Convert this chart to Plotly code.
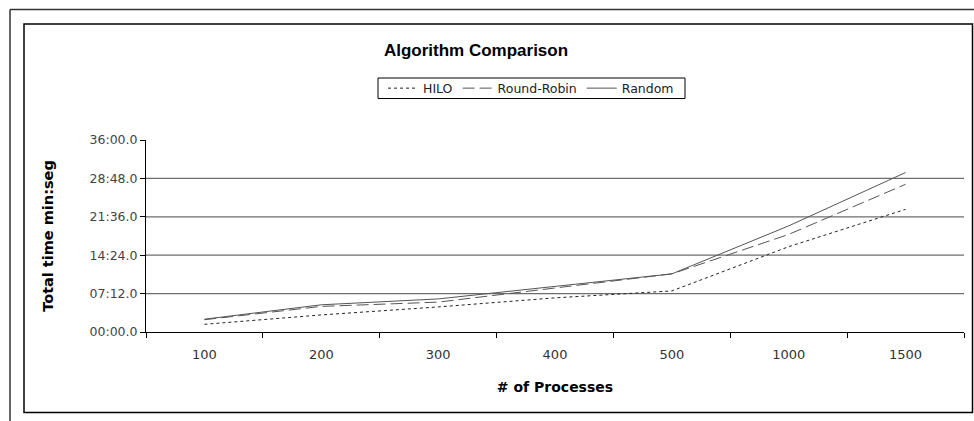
import plotly.graph_objects as go

categories = ["100", "200", "300", "400", "500", "1000", "1500"]
hilo = [1.44, 3.2, 4.7, 6.4, 7.7, 16.0, 23.0]
round_robin = [2.3, 4.8, 5.6, 8.3, 10.9, 18.3, 27.7]
random_ = [2.4, 5.1, 6.2, 8.6, 10.9, 19.9, 29.9]
tick_vals = [0, 7.2, 14.4, 21.6, 28.8, 36]
tick_text = ["00:00.0", "07:12.0", "14:24.0", "21:36.0", "28:48.0", "36:00.0"]

W, H = 974, 421
L, R, T, B = 146, 10, 140, 89
pw, ph = W - L - R, H - T - B

def px_x(x):
    return (x - L) / pw

def px_y(y):
    return (H - B - y) / ph

FONT = "DejaVu Sans, Verdana, sans-serif"
TFONT = "Liberation Sans, Arial, sans-serif"

fig = go.Figure()
fig.add_trace(go.Scatter(x=categories, y=hilo, name="HILO", mode="lines",
                         line=dict(color="#222222", width=1, dash="3px,3px")))
fig.add_trace(go.Scatter(x=categories, y=round_robin, name="Round-Robin", mode="lines",
                         line=dict(color="#555555", width=1, dash="12px,5px")))
fig.add_trace(go.Scatter(x=categories, y=random_, name="Random", mode="lines",
                         line=dict(color="#555555", width=1)))

for v in tick_vals[1:-1]:
    fig.add_hline(y=v, line=dict(color="#6e6e6e", width=1.3), layer="below")

shapes = [
    dict(type="rect", xref="paper", yref="paper", x0=px_x(24), x1=px_x(972.5),
         y0=px_y(412.5), y1=px_y(24), line=dict(color="black", width=1.5)),
    dict(type="line", xref="paper", yref="paper", x0=px_x(10), x1=px_x(974),
         y0=px_y(9.5), y1=px_y(9.5), line=dict(color="#333333", width=1.5)),
    dict(type="line", xref="paper", yref="paper", x0=px_x(10), x1=px_x(10),
         y0=px_y(9.5), y1=px_y(421), line=dict(color="#333333", width=1.5)),
    # legend frame
    dict(type="rect", xref="paper", yref="paper", x0=px_x(378), x1=px_x(685),
         y0=px_y(98.5), y1=px_y(78), line=dict(color="black", width=1)),
]
for s in shapes:
    fig.add_shape(**s)

fig.update_layout(
    width=W, height=H,
    margin=dict(l=L, r=R, t=T, b=B, pad=0),
    paper_bgcolor="white", plot_bgcolor="white",
    font=dict(family=FONT, color="#333333", size=12.5),
    title=dict(text="<b>Algorithm Comparison</b>", x=476 / W, xanchor="center",
               y=1 - 50 / H, yanchor="middle", yref="container",
               font=dict(size=17, color="black", family=TFONT)),
    legend=dict(orientation="h", x=px_x(531), xanchor="center", y=px_y(88.5), yanchor="middle",
                borderwidth=0, bgcolor="rgba(0,0,0,0)",
                font=dict(size=12.5, color="#222222", family=FONT),
                itemwidth=30, tracegroupgap=0),
    showlegend=True,
    xaxis=dict(type="category", range=[-0.5, 6.5], tickson="boundaries", ticks="outside", ticklen=5,
               tickcolor="black", showline=True, linecolor="black", linewidth=1,
               showgrid=False, zeroline=False, ticklabelstandoff=10,
               tickfont=dict(size=13, color="#333333"),
               title=dict(text="<b># of Processes</b>", standoff=21,
                          font=dict(size=14, color="black", family=FONT))),
    yaxis=dict(range=[0, 36], tickvals=tick_vals, ticktext=tick_text, ticks="outside",
               ticklen=5, tickcolor="black", showline=True, linecolor="black", linewidth=1,
               showgrid=False, zeroline=False,
               tickfont=dict(size=12.5, color="#444444"),
               title=dict(text="<b>Total time min:seg</b>", standoff=32,
                          font=dict(size=14.5, color="black", family=FONT))),
)

fig.write_html("out.html")
